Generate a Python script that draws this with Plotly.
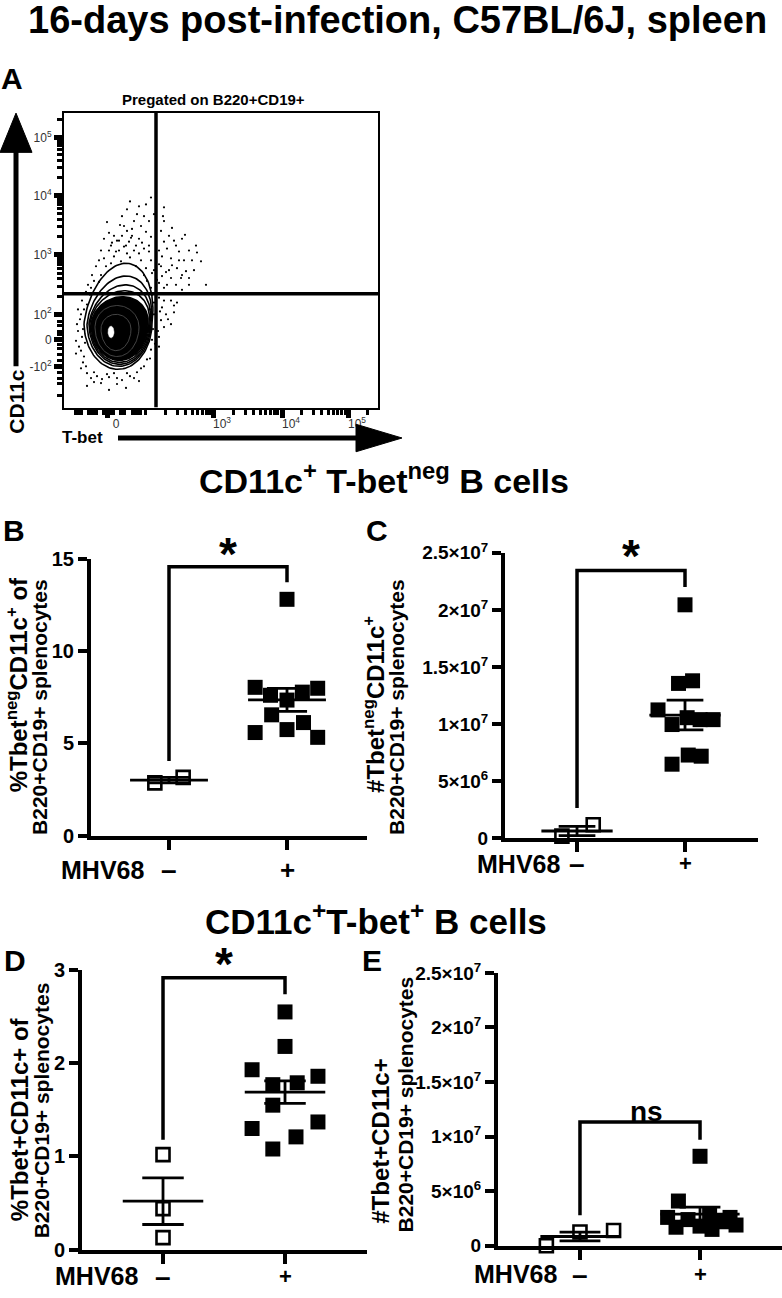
import numpy as np
import plotly.graph_objects as go

W, H = 782, 1298
FONT = "Liberation Sans, Arial, sans-serif"

# ---------------- Panel A: flow plot (display channels) ----------------
flow_dot_x = [87, 82, 63, 100, 90, 73, 58, 70, 85, 100, 60, 77, 43, 63, 50, 68, 82, 40, 53, 65, 75, 87, 100, 110,
              118, 132, 47, 60, 72, 80, 37, 52, 63, 75, 85, 95, 103, 115, 125, 40, 50, 57, 77, 87, 98, 107, 115,
              128, 137, 32, 42, 72, 82, 97, 105, 113, 122, 28, 37, 80, 88, 98, 107, 117, 30, 83, 95, 103, 112, 125,
              142, 27, 87, 100, 118, 95, 100, 107, 113, 98, 102, 110, 97, 107, 100, 95, 95, 18, 17, 13, 18, 15, 20,
              17, 23, 33, 43, 53, 63, 70, 77, 83, 23, 53, 37, 87, 88, 90, 47, 66, 35, 92, 55, 99, 108, 121,
              14, 16, 19, 14, 12, 17, 21, 19, 22, 12, 20, 23, 26, 22, 24,
              27, 30, 38, 45, 50, 58, 66, 73, 80, 86, 62, 45, 30, 75,
              89, 91, 86, 90, 88, 92, 94, 104, 110, 96,
              35, 45, 55, 62, 70, 78, 45, 56, 68, 80, 66, 75, 58, 48, 67, 85, 92, 97, 105, 112, 120, 130, 118, 125,
              133, 108, 102, 95, 90, 93]
flow_dot_y = [214, 207, 202, 204, 197, 197, 195, 190, 190, 190, 185, 185, 189, 180, 175, 175, 179, 172, 170, 169,
              172, 174, 169, 170, 172, 165, 165, 164, 165, 162, 160, 159, 157, 157, 159, 160, 162, 159, 160, 152,
              154, 149, 150, 150, 154, 152, 150, 150, 149, 144, 144, 144, 142, 144, 140, 142, 139, 135, 135, 135,
              137, 134, 132, 132, 129, 129, 127, 125, 125, 125, 125, 122, 122, 122, 120, 112, 109, 109, 107, 102,
              95, 97, 89, 85, 82, 72, 62, 109, 95, 85, 72, 62, 52, 40, 35, 32, 34, 30, 35, 30, 40, 49, 22, 24, 25,
              59, 69, 95, 147, 153, 128, 150, 160, 195, 183, 176,
              100, 90, 80, 78, 68, 58, 66, 46, 42, 55, 100, 105, 115, 118, 125,
              30, 36, 29, 31, 35, 28, 32, 36, 42, 50, 20, 18, 26, 27,
              80, 65, 100, 107, 115, 60, 78, 90, 104, 98,
              150, 160, 170, 165, 160, 168, 178, 186, 182, 195, 210, 205, 175, 168, 173, 165, 172, 180, 175, 165,
              150, 140, 135, 132, 158, 145, 138, 146, 140, 130]
# contour levels, outer -> inner: centre, half-width, upper/lower half-height, upward skew
contour_cx = [54, 55, 55.5, 55.5, 55.5]
contour_cy = [86, 86, 86, 86, 85]
contour_rx = [34, 32, 30.5, 29.5, 28.5]
contour_ry_top = [61, 48, 39, 33, 28]
contour_ry_bot = [47, 44, 42, 40, 37]
contour_skew = [8, 7, 6, 5, 3]
inner_cx = [53, 52]
inner_cy = [82, 80]
inner_rx = [22, 15]
inner_ry_top = [22, 15]
inner_ry_bot = [30, 22]
spot = (47, 77, 3, 6)
gate_x = 92
gate_y = 116
flow_x_tickvals = [43, 149, 218, 284]
flow_x_ticktext = ["0", "10<sup>3</sup>", "10<sup>4</sup>", "10<sup>5</sup>"]
flow_y_tickvals = [42, 69, 95, 156, 216, 275]
flow_y_ticktext = ["-10<sup>2</sup>", "0", "10<sup>2</sup>", "10<sup>3</sup>", "10<sup>4</sup>", "10<sup>5</sup>"]

# ---------------- Dot plots ----------------
categories = ["–", "+"]

B_minus = [2.85, 3.15]
B_minus_jit = [-0.12, 0.12]
B_plus = [12.8, 8.03, 7.98, 7.6, 7.77, 7.34, 6.54, 6.12, 5.58, 5.74, 5.32]
B_plus_jit = [0, -0.27, 0.26, -0.14, 0.13, 0, -0.13, 0.14, -0.27, 0, 0.26]
B_mean = [3.0, 7.35]
B_sem = [0.15, 0.62]

C_minus = [0.2e6, 1.2e6]
C_minus_jit = [-0.14, 0.15]
C_plus = [20.45e6, 13.57e6, 13.8e6, 11.25e6, 9.97e6, 10.57e6, 10.4e6, 10.4e6, 6.5e6, 7.3e6, 7.2e6]
C_plus_jit = [0, -0.06, 0.07, -0.25, -0.12, 0.02, 0.14, 0.26, -0.12, 0.03, 0.15]
C_mean = [0.65e6, 10.8e6]
C_sem = [0.4e6, 1.3e6]

D_minus = [1.02, 0.44, 0.13]
D_minus_jit = [0, 0, 0]
D_plus = [2.55, 2.18, 1.93, 1.86, 1.77, 1.79, 1.55, 1.30, 1.37, 1.21, 1.08]
D_plus_jit = [0, 0, -0.27, 0.27, -0.1, 0.1, -0.1, -0.27, 0.27, 0.09, -0.1]
D_mean = [0.52, 1.69]
D_sem = [0.25, 0.12]

E_minus = [0.0, 1.26e6, 1.4e6]
E_minus_jit = [-0.28, 0, 0.28]
E_plus = [8.2e6, 4.1e6, 2.6e6, 2.4e6, 2.9e6, 2.2e6, 1.9e6, 1.5e6, 1.7e6, 2.6e6, 1.8e6]
E_plus_jit = [0, -0.18, -0.27, -0.1, 0.08, 0.2, 0.3, 0.1, -0.2, 0.25, 0.0]
E_mean = [0.85e6, 2.9e6]
E_sem = [0.4e6, 0.65e6]

# significance brackets: (left leg bottom, top, right leg bottom)
B_bracket = (4.04, 14.57, 13.72)
C_bracket = (2.66e6, 23.45e6, 22.0e6)
D_bracket = (1.18, 2.916, 2.74)
E_bracket = (2.79e6, 11.33e6, 9.71e6)


def px(x):
    return x / W


def py(y):
    return 1 - y / H


fig = go.Figure()


def ellipse(cx, cy, rx, ryt, ryb, skew=0.0, n=120):
    t = np.linspace(0, 2 * np.pi, n)
    s = np.sin(t)
    x = cx + rx * np.cos(t) + skew * np.clip(s, 0, None)
    y = cy + np.where(s > 0, ryt, ryb) * s
    return x, y


# dots
fig.add_trace(go.Scatter(x=flow_dot_x, y=flow_dot_y, mode="markers", xaxis="x", yaxis="y",
                         marker=dict(size=2.2, color="black"), showlegend=False, hoverinfo="skip"))
# filled core
i = len(contour_cx) - 1
ex, ey = ellipse(contour_cx[i], contour_cy[i], contour_rx[i], contour_ry_top[i], contour_ry_bot[i], contour_skew[i])
fig.add_trace(go.Scatter(x=ex, y=ey, mode="lines", fill="toself", fillcolor="black", xaxis="x", yaxis="y",
                         line=dict(color="black", width=1.5), showlegend=False, hoverinfo="skip"))
for k in range(len(contour_cx) - 1):
    ex, ey = ellipse(contour_cx[k], contour_cy[k], contour_rx[k], contour_ry_top[k], contour_ry_bot[k],
                     contour_skew[k])
    fig.add_trace(go.Scatter(x=ex, y=ey, mode="lines", xaxis="x", yaxis="y",
                             line=dict(color="black", width=1.6), showlegend=False, hoverinfo="skip"))
for k in range(len(inner_cx)):
    ex, ey = ellipse(inner_cx[k], inner_cy[k], inner_rx[k], inner_ry_top[k], inner_ry_bot[k])
    fig.add_trace(go.Scatter(x=ex, y=ey, mode="lines", xaxis="x", yaxis="y",
                             line=dict(color="#555", width=0.8), showlegend=False, hoverinfo="skip"))
ex, ey = ellipse(spot[0], spot[1], spot[2], spot[3], spot[3])
fig.add_trace(go.Scatter(x=ex, y=ey, mode="lines", fill="toself", fillcolor="white", xaxis="x", yaxis="y",
                         line=dict(color="white", width=0.5), showlegend=False, hoverinfo="skip"))
# gates
fig.add_trace(go.Scatter(x=[gate_x, gate_x], y=[0, 300], mode="lines", xaxis="x", yaxis="y",
                         line=dict(color="black", width=3.5), showlegend=False, hoverinfo="skip"))
fig.add_trace(go.Scatter(x=[0, 314], y=[gate_y, gate_y], mode="lines", xaxis="x", yaxis="y",
                         line=dict(color="black", width=3.5), showlegend=False, hoverinfo="skip"))


def dot_panel(xa, ya, mv, mj, pv, pj, mean, sem, br):
    fig.add_trace(go.Scatter(x=[0 + j for j in mj], y=mv, mode="markers", xaxis=xa, yaxis=ya,
                             marker=dict(symbol="square-open", size=13, color="black", line=dict(width=2.6)),
                             showlegend=False, cliponaxis=False, hoverinfo="skip"))
    fig.add_trace(go.Scatter(x=[1 + j for j in pj], y=pv, mode="markers", xaxis=xa, yaxis=ya,
                             marker=dict(symbol="square", size=15, color="black", line=dict(width=0)),
                             showlegend=False, cliponaxis=False, hoverinfo="skip"))
    lx, ly = [], []
    for c in range(2):
        m, s = mean[c], sem[c]
        lx += [c - 0.33, c + 0.33, None, c - 0.17, c + 0.17, None, c - 0.17, c + 0.17, None, c, c, None]
        ly += [m, m, None, m + s, m + s, None, m - s, m - s, None, m - s, m + s, None]
    fig.add_trace(go.Scatter(x=lx, y=ly, mode="lines", xaxis=xa, yaxis=ya,
                             line=dict(color="black", width=2.8), showlegend=False, hoverinfo="skip"))
    fig.add_trace(go.Scatter(x=[0, 0, 1, 1], y=[br[0], br[1], br[1], br[2]], mode="lines", xaxis=xa, yaxis=ya,
                             line=dict(color="black", width=3.5), showlegend=False, hoverinfo="skip"))


dot_panel("x2", "y2", B_minus, B_minus_jit, B_plus, B_plus_jit, B_mean, B_sem, B_bracket)
dot_panel("x3", "y3", C_minus, C_minus_jit, C_plus, C_plus_jit, C_mean, C_sem, C_bracket)
dot_panel("x4", "y4", D_minus, D_minus_jit, D_plus, D_plus_jit, D_mean, D_sem, D_bracket)
dot_panel("x5", "y5", E_minus, E_minus_jit, E_plus, E_plus_jit, E_mean, E_sem, E_bracket)

# ---------------- axes ----------------
x_minor = [11, 13, 15, 17, 24, 26, 28, 30, 32, 39, 41, 45, 47, 49, 56, 58, 60, 68, 70, 72, 74, 76, 81]
x_minor += [round(149 + 68 * np.log10(k / 10.0), 1) for k in range(2, 10)]
x_minor += [round(149 + 68 * np.log10(k), 1) for k in range(2, 10)]
x_minor += [round(b + 66 * np.log10(k), 1) for b in (218, 284) for k in range(2, 10)]
x_minor = [v for v in x_minor if v < 312]
y_minor = [12, 25, 30, 36, 48, 54, 60, 64, 74, 78, 84, 88]
y_minor += [round(b + 60 * np.log10(k), 1) for b in (95, 156, 216, 275) for k in range(2, 10)]
y_minor = [v for v in y_minor if v < 298]

flow_font = dict(family=FONT, size=12, color="#333")
fig.update_layout(
    xaxis=dict(domain=[px(64), px(378)], range=[0, 314], anchor="y", showgrid=False, zeroline=False,
               showline=True, mirror=True, linecolor="black", linewidth=2, ticks="outside",
               tickmode="array", tickvals=flow_x_tickvals, ticktext=flow_x_ticktext, ticklen=8, tickwidth=5,
               tickcolor="black", tickfont=flow_font, ticklabelshift=9, ticklabelstandoff=-4,
               minor=dict(tickmode="array", tickvals=x_minor, ticks="outside", ticklen=5, tickwidth=2.5,
                          tickcolor="black", showgrid=False)),
    yaxis=dict(domain=[py(402), py(102)], range=[0, 300], anchor="x", showgrid=False, zeroline=False,
               showline=True, mirror=True, linecolor="black", linewidth=2, ticks="outside",
               tickmode="array", tickvals=flow_y_tickvals, ticktext=flow_y_ticktext, ticklen=8, tickwidth=5,
               tickcolor="black", tickfont=flow_font,
               minor=dict(tickmode="array", tickvals=y_minor, ticks="outside", ticklen=5, tickwidth=2.5,
                          tickcolor="black", showgrid=False)),
)

big = dict(family=FONT, size=20, color="black", weight="bold")
sci = dict(family=FONT, size=19, color="black", weight="bold")


def xa_dict(dom, rng, anchor):
    return dict(domain=dom, range=rng, anchor=anchor, showgrid=False, zeroline=False, showline=True,
                linecolor="black", linewidth=4, ticks="outside", tickmode="array", tickvals=[0, 1],
                ticklen=10, tickwidth=4, tickcolor="black", showticklabels=False)


def ya_dict(dom, rng, anchor, tv, tt, font):
    return dict(domain=dom, range=rng, anchor=anchor, showgrid=False, zeroline=False, showline=True,
                linecolor="black", linewidth=4, ticks="outside", tickmode="array", tickvals=tv, ticktext=tt,
                ticklen=9, tickwidth=4, tickcolor="black", tickfont=font)


sci_vals = [0, 5e6, 1e7, 1.5e7, 2e7, 2.5e7]
sci_text = ["0", "5×10<sup>6</sup>", "1×10<sup>7</sup>", "1.5×10<sup>7</sup>", "2×10<sup>7</sup>",
            "2.5×10<sup>7</sup>"]

fig.update_layout(
    xaxis2=xa_dict([px(91), px(367)], [-0.661, 1.678], "y2"),
    yaxis2=ya_dict([py(838), py(556)], [0, 15], "x2", [0, 5, 10, 15], ["0", "5", "10", "15"], big),
    xaxis3=xa_dict([px(505), px(758)], [-0.667, 1.676], "y3"),
    yaxis3=ya_dict([py(841), py(550)], [0, 2.5e7], "x3", sci_vals, sci_text, sci),
    xaxis4=xa_dict([px(82), px(367)], [-0.664, 1.672], "y4"),
    yaxis4=ya_dict([py(1260), py(975)], [0, 3], "x4", [0, 1, 2, 3], ["0", "1", "2", "3"], big),
    xaxis5=xa_dict([px(498), px(782)], [-0.683, 1.683], "y5"),
    yaxis5=ya_dict([py(1256), py(978)], [0, 2.5e7], "x5", sci_vals, sci_text, sci),
)

# ---------------- annotations ----------------
ann = []


def txt(x, y, text, size, bold=True, angle=0, xref="paper", yanchor="middle", yshift=0):
    ann.append(dict(x=x if xref != "paper" else px(x), y=py(y), xref=xref, yref="paper", text=text,
                    showarrow=False, xanchor="center", yanchor=yanchor, textangle=angle, yshift=yshift,
                    font=dict(family=FONT, size=size, color="black", weight="bold" if bold else "normal")))


txt(397, 18, "16-days post-infection, C57BL/6J, spleen", 38, yshift=11)
txt(384, 474, "CD11c<sup>+</sup> T-bet<sup>neg</sup> B cells", 34)
txt(376, 923, "CD11c<sup>+</sup>T-bet<sup>+</sup> B cells", 35)
for lab, (lx, ly) in {"A": (12, 67), "B": (14, 527), "C": (377, 527), "D": (15, 965), "E": (372, 965)}.items():
    txt(lx, ly, lab, 30)
txt(213, 88, "Pregated on B220+CD19+", 15)
txt(17, 396, "CD11c", 21, angle=-90)
txt(82, 432, "T-bet", 17)

txt(17, 685, "%Tbet<sup>neg</sup>CD11c<sup>+</sup> of", 24, angle=-90)
txt(40, 707, "B220+CD19+ splenocytes", 21, angle=-90)
txt(374, 705, "#Tbet<sup>neg</sup>CD11c<sup>+</sup>", 24, angle=-90)
txt(397, 707, "B220+CD19+ splenocytes", 21, angle=-90)
txt(19, 1127, "%Tbet+CD11c+ of", 24, angle=-90)
txt(41, 1118, "B220+CD19+ splenocytes", 21, angle=-90)
txt(381, 1150, "#Tbet+CD11c+", 24, angle=-90)
txt(405, 1112, "B220+CD19+ splenocytes", 21, angle=-90)

for (mx, my, xr, ssize) in [(102, 873, "x2", 26), (518, 867, "x3", 22), (96, 1287, "x4", 22),
                            (515, 1285, "x5", 22)]:
    txt(mx, my, "MHV68", 25)
    for c, lab in enumerate(categories):
        txt(c, my, lab, ssize if lab == "+" else 28, xref=xr)

for (xr, sy) in [("x2", 549), ("x3", 551), ("x4", 967)]:
    txt(0.5, sy + 2, "*", 46, xref=xr)
txt(0.55, 1119, "ns", 28, xref="x5")

fig.update_layout(annotations=ann)

# ---------------- arrows (panel A) ----------------
shapes = [
    dict(type="line", xref="paper", yref="paper", x0=px(16), x1=px(16), y0=py(360), y1=py(135),
         line=dict(color="black", width=5)),
    dict(type="path", xref="paper", yref="paper", fillcolor="black", line=dict(color="black", width=1),
         path=f"M {px(0)},{py(142)} L {px(16)},{py(102)} L {px(32)},{py(142)} Z"),
    dict(type="line", xref="paper", yref="paper", x0=px(118), x1=px(362), y0=py(433), y1=py(433),
         line=dict(color="black", width=5)),
    dict(type="path", xref="paper", yref="paper", fillcolor="black", line=dict(color="black", width=1),
         path=f"M {px(356)},{py(419)} L {px(402)},{py(433)} L {px(356)},{py(447)} Z"),
]
fig.update_layout(shapes=shapes)

fig.update_layout(width=W, height=H, margin=dict(l=0, r=0, t=0, b=0), paper_bgcolor="white",
                  plot_bgcolor="white", showlegend=False)
fig.write_html("out.html")
